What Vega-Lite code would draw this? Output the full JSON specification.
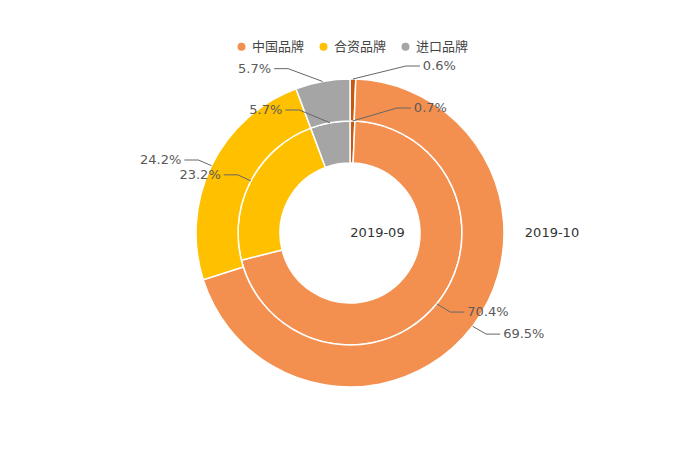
{
  "$schema": "https://vega.github.io/schema/vega-lite/v6.json",
  "width": 700,
  "height": 466,
  "padding": 0,
  "autosize": {"type": "none"},
  "background": "white",
  "config": {"view": {"stroke": null}, "font": "DejaVu Sans"},
  "data": {
    "values": [
      {"ring": "2019-09", "brand": "其他", "value": 0.7},
      {"ring": "2019-09", "brand": "中国品牌", "value": 70.4},
      {"ring": "2019-09", "brand": "合资品牌", "value": 23.2},
      {"ring": "2019-09", "brand": "进口品牌", "value": 5.7},
      {"ring": "2019-10", "brand": "其他", "value": 0.6},
      {"ring": "2019-10", "brand": "中国品牌", "value": 69.5},
      {"ring": "2019-10", "brand": "合资品牌", "value": 24.2},
      {"ring": "2019-10", "brand": "进口品牌", "value": 5.7}
    ]
  },
  "transform": [
    {"window": [{"op": "row_number", "as": "idx"}], "groupby": ["ring"]},
    {"window": [{"op": "sum", "field": "value", "as": "cum"}], "groupby": ["ring"], "sort": [{"field": "idx"}], "frame": [null, 0]},
    {"joinaggregate": [{"op": "sum", "field": "value", "as": "total"}], "groupby": ["ring"]},
    {"calculate": "2*PI*(datum.cum - datum.value)/datum.total", "as": "t0"},
    {"calculate": "2*PI*datum.cum/datum.total", "as": "t1"},
    {"calculate": "(datum.t0 + datum.t1)/2", "as": "tm"},
    {"calculate": "datum.ring === '2019-09' ? 112 : 154", "as": "r0"},
    {"calculate": "(datum.r0 + 13) * cos(datum.tm)", "as": "ly"},
    {"calculate": "sin(datum.tm) >= 0 ? 1 : -1", "as": "dir"},
    {"calculate": "datum.dir * sqrt(max(0, pow(datum.r0 + 27, 2) - datum.ly * datum.ly))", "as": "lx"},
    {"calculate": "datum.lx + datum.dir * 3", "as": "tx"},
    {"calculate": "format(datum.value, '.1f') + '%'", "as": "label"},
    {"calculate": "datum.ring + datum.brand", "as": "key"}
  ],
  "layer": [
    {
      "transform": [{"filter": "datum.ring === '2019-09'"}],
      "mark": {"type": "arc", "radius": 112, "radius2": 70, "stroke": "white", "strokeWidth": 1.5},
      "encoding": {
        "theta": {"field": "t0", "type": "quantitative", "scale": null, "stack": null},
        "theta2": {"field": "t1"},
        "color": {
          "field": "brand",
          "type": "nominal",
          "scale": {"domain": ["其他", "中国品牌", "合资品牌", "进口品牌"], "range": ["#C55A11", "#F3904F", "#FFC000", "#A5A5A5"]},
          "legend": {
            "orient": "none",
            "legendX": 235,
            "legendY": 40,
            "direction": "horizontal",
            "title": null,
            "values": ["中国品牌", "合资品牌", "进口品牌"],
            "symbolType": "circle",
            "symbolSize": 64,
            "symbolStrokeWidth": 0,
            "labelFont": "Noto Sans CJK SC",
            "labelFontSize": 13,
            "labelColor": "#444444",
            "labelOffset": 4,
            "columnPadding": 12
          }
        }
      }
    },
    {
      "transform": [{"filter": "datum.ring === '2019-10'"}],
      "mark": {"type": "arc", "radius": 154, "radius2": 112, "stroke": "white", "strokeWidth": 1.5},
      "encoding": {
        "theta": {"field": "t0", "type": "quantitative", "scale": null, "stack": null},
        "theta2": {"field": "t1"},
        "color": {"field": "brand", "type": "nominal"}
      }
    },
    {
      "transform": [
        {"calculate": "[datum.r0 * sin(datum.tm), datum.lx - datum.dir * 14, datum.lx]", "as": "xs"},
        {"calculate": "[datum.r0 * cos(datum.tm), datum.ly, datum.ly]", "as": "ys"},
        {"calculate": "[0, 1, 2]", "as": "ks"},
        {"flatten": ["xs", "ys", "ks"]}
      ],
      "mark": {"type": "line", "color": "#666666", "strokeWidth": 1},
      "encoding": {
        "x": {"field": "xs", "type": "quantitative", "scale": {"domain": [-350, 350], "nice": false, "zero": false}, "axis": null},
        "y": {"field": "ys", "type": "quantitative", "scale": {"domain": [-233, 233], "nice": false, "zero": false}, "axis": null},
        "detail": {"field": "key"},
        "order": {"field": "ks"}
      }
    },
    {
      "transform": [{"filter": "datum.dir > 0"}],
      "mark": {"type": "text", "align": "left", "baseline": "middle", "fontSize": 13, "color": "#5a5a5a", "font": "DejaVu Sans"},
      "encoding": {
        "x": {"field": "tx", "type": "quantitative"},
        "y": {"field": "ly", "type": "quantitative"},
        "text": {"field": "label"}
      }
    },
    {
      "transform": [{"filter": "datum.dir < 0"}],
      "mark": {"type": "text", "align": "right", "baseline": "middle", "fontSize": 13, "color": "#5a5a5a", "font": "DejaVu Sans"},
      "encoding": {
        "x": {"field": "tx", "type": "quantitative"},
        "y": {"field": "ly", "type": "quantitative"},
        "text": {"field": "label"}
      }
    },
    {
      "transform": [
        {"aggregate": [{"op": "count", "as": "n"}], "groupby": ["ring"]},
        {"calculate": "datum.ring === '2019-09' ? 27.5 : 202", "as": "cx"},
        {"calculate": "0", "as": "cy"}
      ],
      "mark": {"type": "text", "align": "center", "baseline": "middle", "fontSize": 13, "color": "#333333", "font": "DejaVu Sans"},
      "encoding": {
        "x": {"field": "cx", "type": "quantitative"},
        "y": {"field": "cy", "type": "quantitative"},
        "text": {"field": "ring"}
      }
    }
  ]
}
